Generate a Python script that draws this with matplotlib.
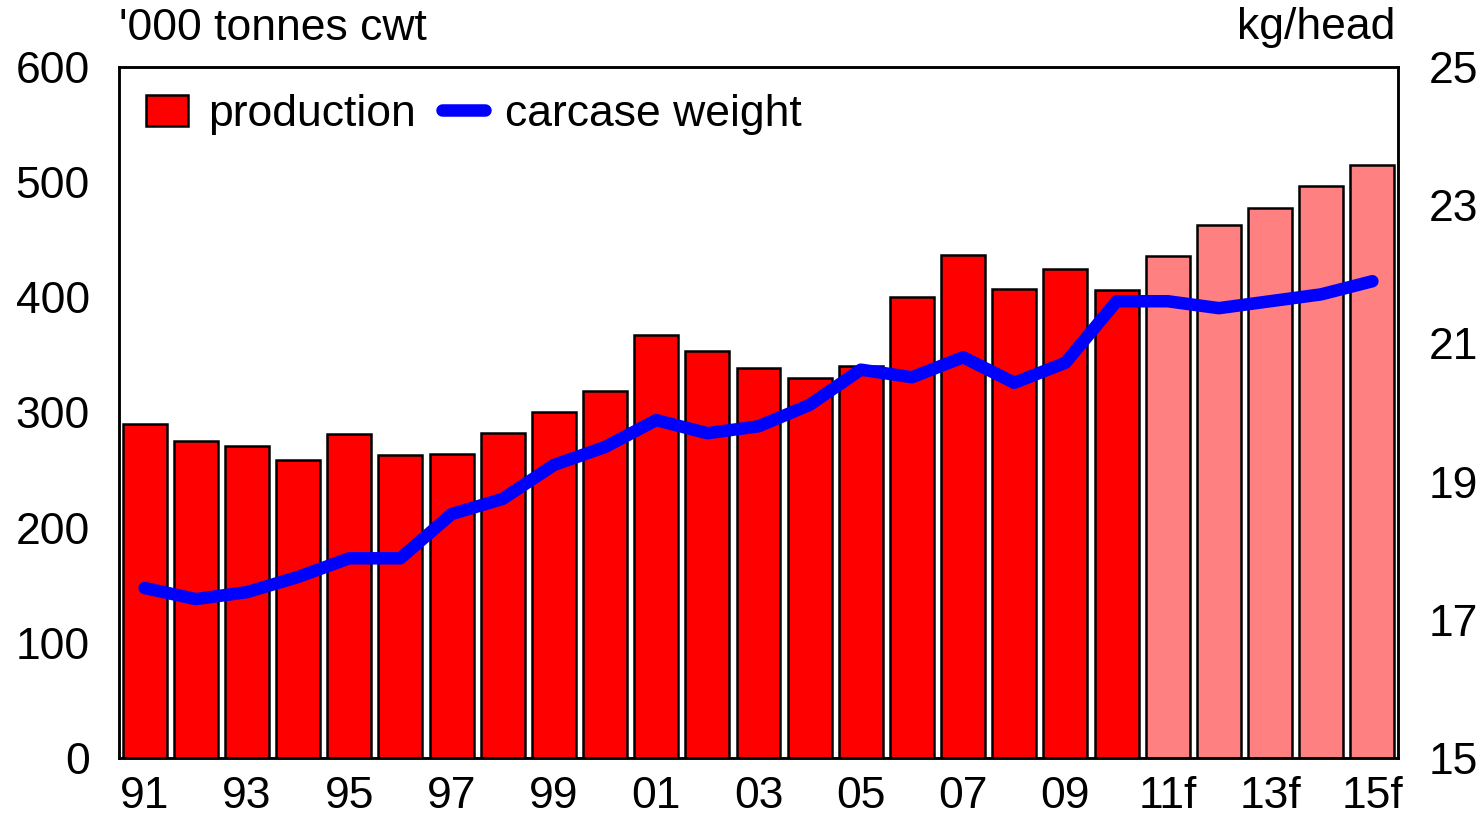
import matplotlib
matplotlib.use("Agg")
import matplotlib.pyplot as plt
from matplotlib.patches import Patch
from matplotlib.lines import Line2D

plt.rcParams['font.family'] = ['Liberation Sans', 'DejaVu Sans']

years = ["91", "92", "93", "94", "95", "96", "97", "98", "99", "00",
         "01", "02", "03", "04", "05", "06", "07", "08", "09", "10",
         "11f", "12f", "13f", "14f", "15f"]
production = [290, 275, 271, 259, 281, 263, 264, 282, 300, 319,
              367, 353, 339, 330, 340, 400, 437, 407, 425, 406,
              436, 463, 478, 497, 515]
carcase_weight = [17.46, 17.30, 17.40, 17.62, 17.89, 17.89, 18.53, 18.75, 19.24, 19.50,
                  19.89, 19.70, 19.80, 20.11, 20.62, 20.51, 20.80, 20.43, 20.72, 21.61,
                  21.61, 21.51, 21.61, 21.71, 21.90]
n_actual = 20
left_ticks = [0, 100, 200, 300, 400, 500, 600]
right_ticks = [15, 17, 19, 21, 23, 25]

FS = 32
fig = plt.figure(figsize=(14.82, 8.24), dpi=100)
ax = fig.add_axes([119/1482, 1 - 758/824, (1398-119)/1482, (758-67)/824])
x = list(range(len(years)))
colors = ['#ff0000' if i < n_actual else '#ff8080' for i in x]
ax.bar(x, production, width=0.86, color=colors, edgecolor='black', linewidth=1.8, zorder=2)
ax.set_xlim(-0.5, len(years) - 0.5)
ax.set_ylim(0, 600)
ax.set_yticks(left_ticks)
ax.set_xticks(x[::2])
ax.set_xticklabels(years[::2])
ax.tick_params(axis='both', length=0, labelsize=FS)
ax.tick_params(axis='x', pad=13)
ax.tick_params(axis='y', pad=21)
for s in ax.spines.values():
    s.set_linewidth(1.8)

ax2 = ax.twinx()
ax2.plot(x, carcase_weight, color='#0000ff', linewidth=9, solid_capstyle='round',
         solid_joinstyle='round', zorder=3)
ax2.set_ylim(15, 25)
ax2.set_yticks(right_ticks)
ax2.tick_params(axis='y', length=0, labelsize=FS, pad=22)
for s in ax2.spines.values():
    s.set_linewidth(1.8)

fig.text(119/1482, 1 - 28/824, "'000 tonnes cwt", fontsize=FS, ha='left', va='center')
fig.text(1395/1482, 1 - 28/824, "kg/head", fontsize=FS, ha='right', va='center')

handles = [Patch(facecolor='#ff0000', edgecolor='black', linewidth=1.8),
           Line2D([0], [0], color='#0000ff', linewidth=9, solid_capstyle='round')]
ax2.legend(handles, ['production', 'carcase weight'], loc='upper left', ncol=2,
           frameon=False, fontsize=FS, bbox_to_anchor=(0.0, 1.0),
           handlelength=0.95, handletextpad=0.45, columnspacing=0.6,
           borderpad=0.3, borderaxespad=0.3)

fig.savefig("out.png", dpi=100)
